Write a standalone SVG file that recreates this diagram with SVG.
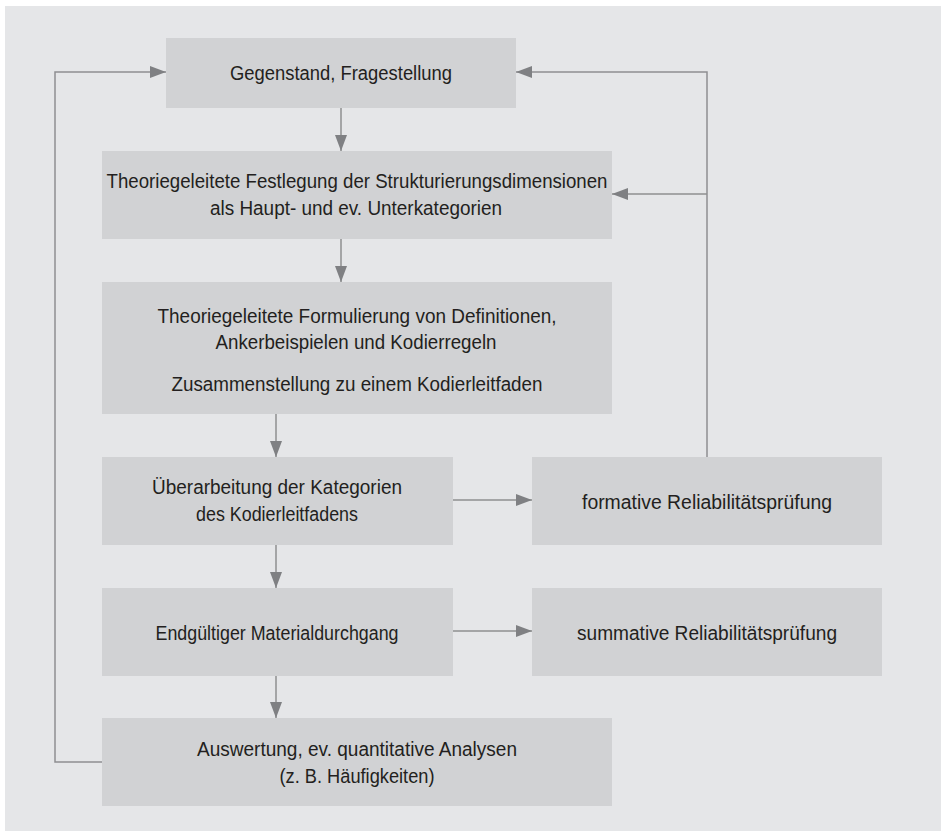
<svg xmlns="http://www.w3.org/2000/svg" width="941" height="831" viewBox="0 0 941 831">
<style>
.box{fill:#d1d2d4}
.t{font-family:"Liberation Sans",Arial,sans-serif;font-size:20px;fill:#231f20;text-anchor:middle}
.ln{fill:none;stroke:#8e8f91;stroke-width:1.5}
</style>
<defs>
<marker id="ah" markerWidth="16" markerHeight="12" refX="16" refY="6" orient="auto" markerUnits="userSpaceOnUse">
<path d="M0,0 L16,6 L0,12 Z" fill="#7f8083"/>
</marker>
</defs>
<rect x="0" y="0" width="941" height="831" fill="#ffffff"/>
<rect x="5" y="6" width="936" height="825" fill="#e5e6e8"/>
<g id="connectors">
<line class="ln" x1="341" y1="108" x2="341" y2="151" marker-end="url(#ah)"/>
<line class="ln" x1="341" y1="239" x2="341" y2="282" marker-end="url(#ah)"/>
<line class="ln" x1="276" y1="414" x2="276" y2="457" marker-end="url(#ah)"/>
<line class="ln" x1="276" y1="545" x2="276" y2="588" marker-end="url(#ah)"/>
<line class="ln" x1="276" y1="676" x2="276" y2="718" marker-end="url(#ah)"/>
<line class="ln" x1="453" y1="500" x2="532" y2="500" marker-end="url(#ah)"/>
<line class="ln" x1="453" y1="631" x2="532" y2="631" marker-end="url(#ah)"/>
<polyline class="ln" points="707,457 707,72 516,72" marker-end="url(#ah)"/>
<line class="ln" x1="707" y1="194" x2="612" y2="194" marker-end="url(#ah)"/>
<polyline class="ln" points="102,762 55,762 55,72 166,72" marker-end="url(#ah)"/>
</g>
<g id="n1">
<rect class="box" x="166" y="38" width="350" height="70"/>
<text class="t" x="341" y="80" textLength="222" lengthAdjust="spacingAndGlyphs">Gegenstand, Fragestellung</text>
</g>
<g id="n2">
<rect class="box" x="102" y="151" width="510" height="88"/>
<text class="t" x="357" y="188" textLength="501" lengthAdjust="spacingAndGlyphs">Theoriegeleitete Festlegung der Strukturierungsdimensionen</text>
<text class="t" x="356" y="215" textLength="292" lengthAdjust="spacingAndGlyphs">als Haupt- und ev. Unterkategorien</text>
</g>
<g id="n3">
<rect class="box" x="102" y="282" width="510" height="132"/>
<text class="t" x="357" y="323" textLength="399" lengthAdjust="spacingAndGlyphs">Theoriegeleitete Formulierung von Definitionen,</text>
<text class="t" x="356" y="349" textLength="281" lengthAdjust="spacingAndGlyphs">Ankerbeispielen und Kodierregeln</text>
<text class="t" x="357" y="391" textLength="371" lengthAdjust="spacingAndGlyphs">Zusammenstellung zu einem Kodierleitfaden</text>
</g>
<g id="n4">
<rect class="box" x="102" y="457" width="351" height="88"/>
<text class="t" x="277" y="494" textLength="250" lengthAdjust="spacingAndGlyphs">Überarbeitung der Kategorien</text>
<text class="t" x="277" y="521" textLength="162" lengthAdjust="spacingAndGlyphs">des Kodierleitfadens</text>
</g>
<g id="n5">
<rect class="box" x="532" y="457" width="350" height="88"/>
<text class="t" x="707" y="509" textLength="250" lengthAdjust="spacingAndGlyphs">formative Reliabilitätsprüfung</text>
</g>
<g id="n6">
<rect class="box" x="102" y="588" width="351" height="88"/>
<text class="t" x="277" y="640" textLength="243" lengthAdjust="spacingAndGlyphs">Endgültiger Materialdurchgang</text>
</g>
<g id="n7">
<rect class="box" x="532" y="588" width="350" height="88"/>
<text class="t" x="707" y="640" textLength="260" lengthAdjust="spacingAndGlyphs">summative Reliabilitätsprüfung</text>
</g>
<g id="n8">
<rect class="box" x="102" y="718" width="510" height="88"/>
<text class="t" x="357" y="756" textLength="320" lengthAdjust="spacingAndGlyphs">Auswertung, ev. quantitative Analysen</text>
<text class="t" x="357" y="783" textLength="155" lengthAdjust="spacingAndGlyphs">(z. B. Häufigkeiten)</text>
</g>
</svg>
